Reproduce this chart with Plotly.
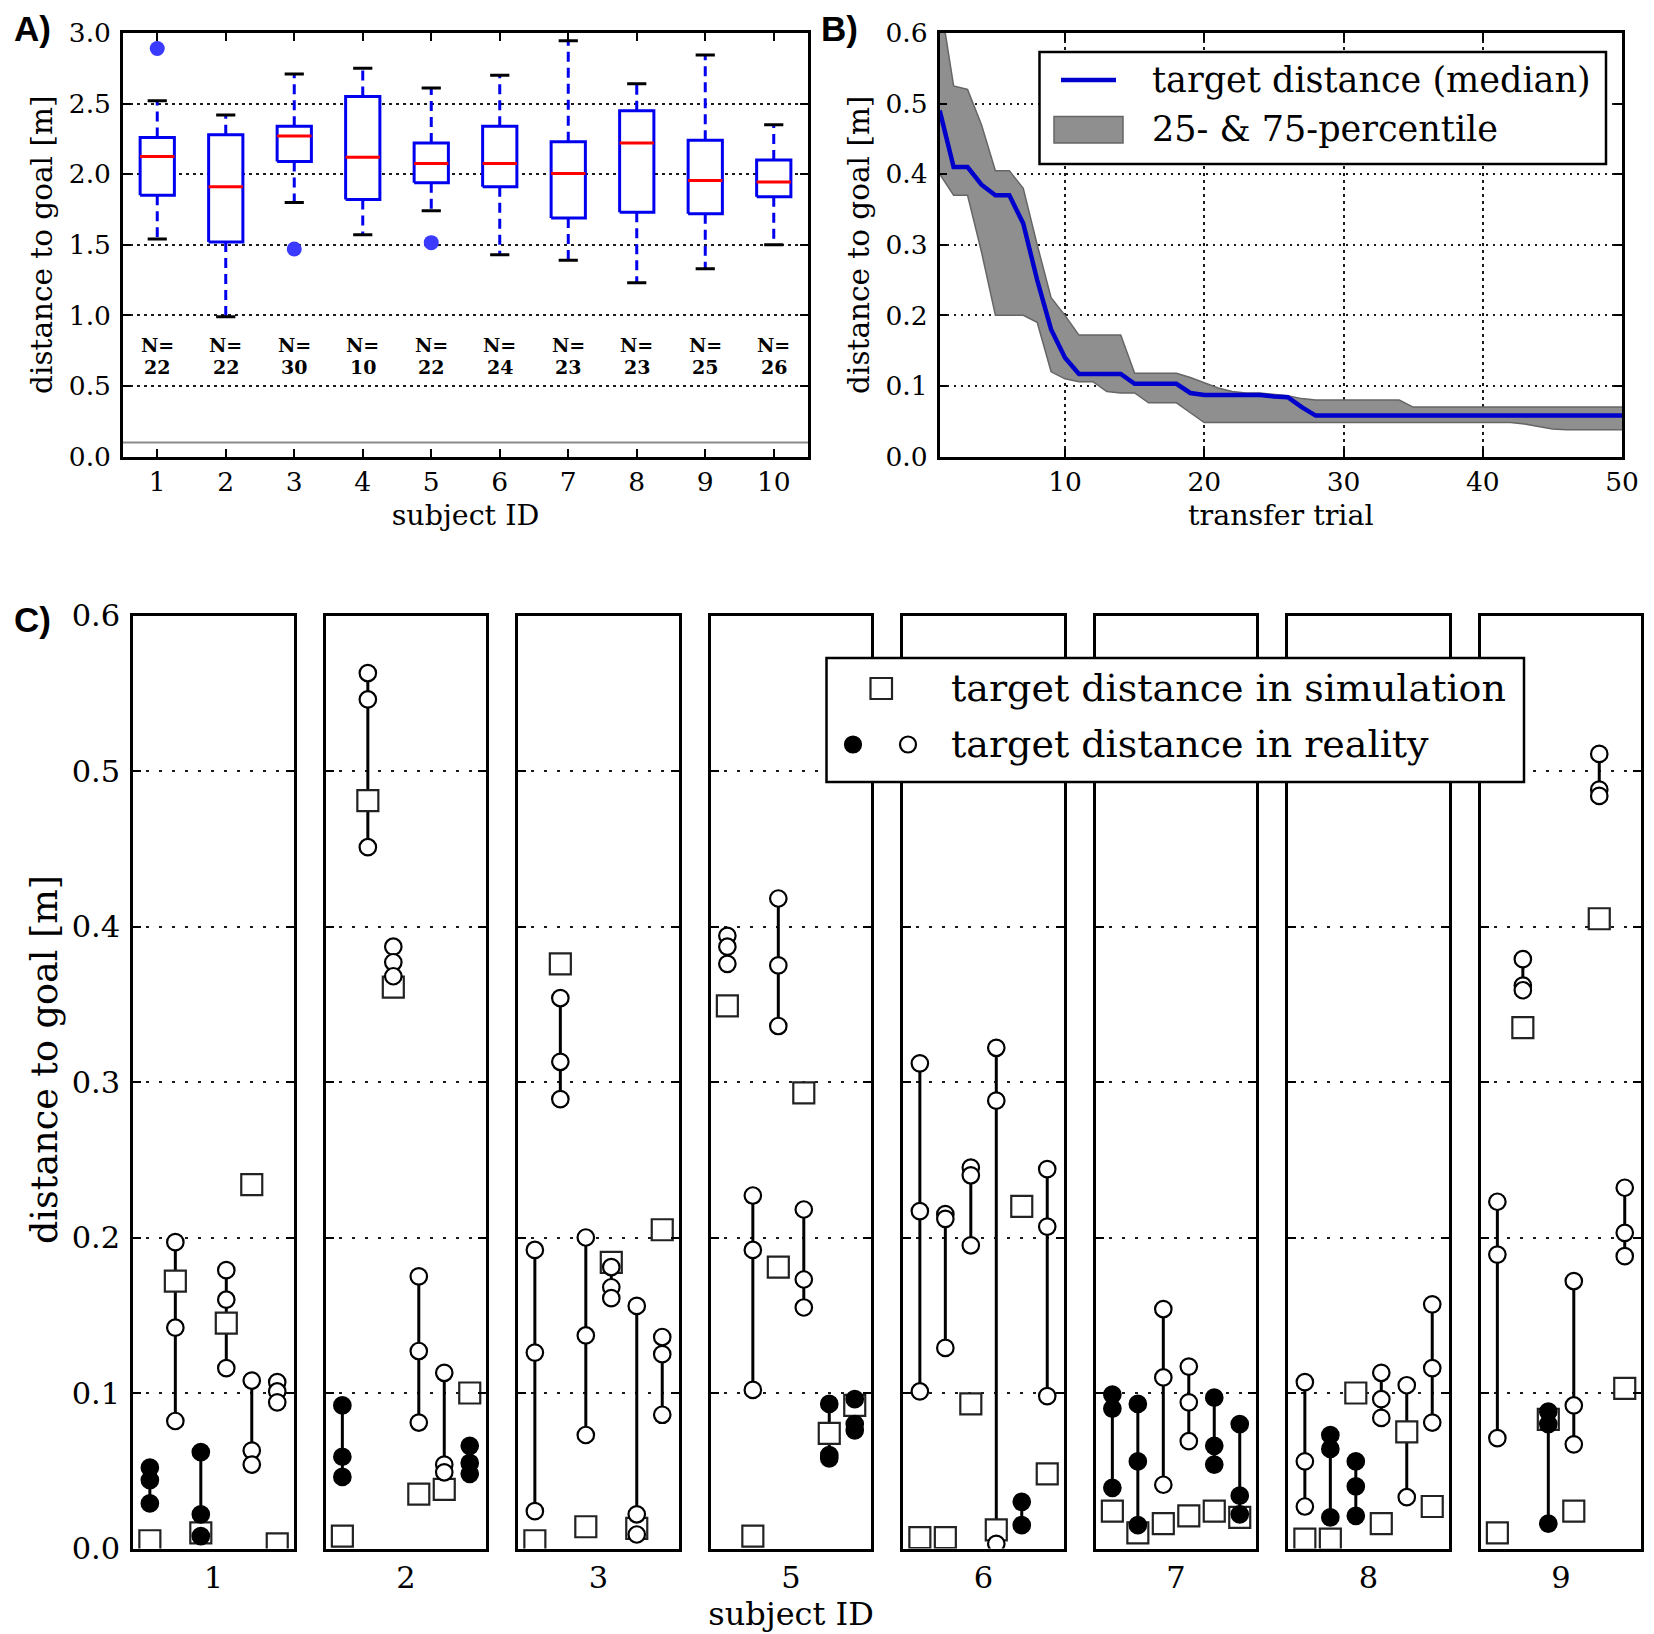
import plotly.graph_objects as go

SERIF = "DejaVu Serif"
SANS = "Liberation Sans"

# ---- A) distance to goal per subject (box statistics read from the figure)
subjects_a = [1, 2, 3, 4, 5, 6, 7, 8, 9, 10]
whisker_hi = [2.52, 2.42, 2.71, 2.75, 2.61, 2.70, 2.945, 2.64, 2.845, 2.35]
q3_a = [2.26, 2.28, 2.34, 2.55, 2.22, 2.34, 2.23, 2.45, 2.24, 2.10]
median_a = [2.125, 1.91, 2.27, 2.12, 2.075, 2.075, 2.005, 2.22, 1.955, 1.945]
q1_a = [1.85, 1.52, 2.09, 1.82, 1.94, 1.91, 1.69, 1.73, 1.72, 1.84]
whisker_lo = [1.54, 0.99, 1.80, 1.57, 1.74, 1.43, 1.39, 1.23, 1.33, 1.50]
n_trials = [22, 22, 30, 10, 22, 24, 23, 23, 25, 26]
outlier_subject = [1, 3, 5]
outlier_value = [2.89, 1.47, 1.515]
threshold = 0.1

# ---- B) learning curve over transfer trials
trials = list(range(1, 51))
median_b = [0.49, 0.41, 0.41, 0.385, 0.37, 0.37, 0.33, 0.25, 0.18, 0.14,
            0.117, 0.117, 0.117, 0.117, 0.103, 0.103, 0.103, 0.103, 0.09, 0.087,
            0.087, 0.087, 0.087, 0.087, 0.085, 0.084, 0.07, 0.058, 0.058, 0.058,
            0.058, 0.058, 0.058, 0.058, 0.058, 0.058, 0.058, 0.058, 0.058, 0.058,
            0.058, 0.058, 0.058, 0.058, 0.058, 0.058, 0.058, 0.058, 0.058, 0.058]
p75_b = [0.65, 0.525, 0.52, 0.47, 0.405, 0.405, 0.38, 0.30, 0.225, 0.20,
         0.172, 0.172, 0.172, 0.172, 0.118, 0.118, 0.118, 0.118, 0.112, 0.105,
         0.097, 0.092, 0.09, 0.09, 0.088, 0.086, 0.082, 0.08, 0.08, 0.08,
         0.08, 0.08, 0.08, 0.08, 0.07, 0.07, 0.07, 0.07, 0.07, 0.07,
         0.07, 0.07, 0.07, 0.07, 0.07, 0.07, 0.07, 0.07, 0.07, 0.07]
p25_b = [0.40, 0.37, 0.37, 0.29, 0.20, 0.20, 0.20, 0.19, 0.12, 0.11,
         0.106, 0.106, 0.092, 0.09, 0.09, 0.076, 0.076, 0.076, 0.062, 0.048,
         0.048, 0.048, 0.048, 0.048, 0.048, 0.048, 0.048, 0.048, 0.048, 0.048,
         0.048, 0.048, 0.048, 0.048, 0.048, 0.048, 0.048, 0.048, 0.048, 0.048,
         0.048, 0.048, 0.046, 0.042, 0.039, 0.038, 0.038, 0.038, 0.038, 0.038]

# ---- C) simulation vs reality, six targets per subject
subjects_c = ["1", "2", "3", "5", "6", "7", "8", "9"]
targets = [1, 2, 3, 4, 5, 6]
sim_c = [
    [0.005, 0.172, 0.010, 0.145, 0.234, 0.003],
    [0.008, 0.481, 0.361, 0.035, 0.038, 0.100],
    [0.005, 0.376, 0.014, 0.184, 0.013, 0.205],
    [0.349, 0.008, 0.181, 0.293, 0.074, 0.092],
    [0.007, 0.007, 0.093, 0.012, 0.220, 0.048],
    [0.024, 0.010, 0.016, 0.021, 0.024, 0.020],
    [0.006, 0.006, 0.100, 0.016, 0.075, 0.027],
    [0.010, 0.335, 0.083, 0.024, 0.405, 0.103],
]
real_c = [
    [[0.052, 0.044, 0.029], [0.197, 0.142, 0.082], [0.062, 0.022, 0.008],
     [0.179, 0.160, 0.116], [0.108, 0.063, 0.054], [0.107, 0.101, 0.094]],
    [[0.092, 0.059, 0.046], [0.563, 0.546, 0.451], [0.387, 0.377, 0.368],
     [0.175, 0.127, 0.081], [0.113, 0.054, 0.049], [0.066, 0.055, 0.048]],
    [[0.192, 0.126, 0.024], [0.354, 0.313, 0.289], [0.200, 0.137, 0.073],
     [0.181, 0.168, 0.161], [0.156, 0.022, 0.009], [0.136, 0.125, 0.086]],
    [[0.394, 0.387, 0.376], [0.227, 0.192, 0.102], [0.418, 0.375, 0.336],
     [0.218, 0.173, 0.155], [0.093, 0.060, 0.058], [0.096, 0.080, 0.076]],
    [[0.312, 0.217, 0.101], [0.215, 0.212, 0.129], [0.245, 0.240, 0.195],
     [0.322, 0.288, 0.003], [0.030, 0.015], [0.244, 0.207, 0.098]],
    [[0.099, 0.090, 0.039], [0.093, 0.056, 0.015], [0.154, 0.110, 0.041],
     [0.117, 0.094, 0.069], [0.097, 0.066, 0.054], [0.080, 0.034, 0.022]],
    [[0.107, 0.056, 0.027], [0.073, 0.064, 0.020], [0.056, 0.040, 0.021],
     [0.113, 0.096, 0.084], [0.105, 0.033], [0.157, 0.116, 0.081]],
    [[0.223, 0.189, 0.071], [0.379, 0.362, 0.359], [0.088, 0.080, 0.016],
     [0.172, 0.092, 0.067], [0.511, 0.488, 0.484], [0.232, 0.203, 0.188]],
]
# 1 = filled marker, 0 = open marker
filled_c = [
    [1, 0, 1, 0, 0, 0],
    [1, 0, 0, 0, 0, 1],
    [0, 0, 0, 0, 0, 0],
    [0, 0, 0, 0, 1, 1],
    [0, 0, 0, 0, 1, 0],
    [1, 1, 0, 0, 1, 1],
    [0, 1, 1, 0, 0, 0],
    [0, 0, 1, 0, 0, 0],
]

W, H = 1654, 1634
BOX_W = 0.25
CAP_W = 0.14
DOTS_AB = "2.5px,4.5px"
DOTS_C = "3px,10px"


def rx(x):
    return x / W


def ry(y):
    return 1 - y / H


def frame(**kw):
    ax = dict(showline=True, linecolor="black", linewidth=2.5, mirror="ticks",
              ticks="inside", ticklen=8, tickwidth=2, tickcolor="black",
              zeroline=False, automargin=False, showgrid=False,
              gridcolor="#1a1a1a", gridwidth=2, griddash=DOTS_AB,
              ticklabelstandoff=4,
              tickfont=dict(family=SERIF, size=26.5, color="black"))
    ax.update(kw)
    return ax


fig = go.Figure()

# ---------------- panel A
bx, by, mx, my, wx, wy, cx, cy = [], [], [], [], [], [], [], []
for s, lo, q1, md, q3, hi in zip(subjects_a, whisker_lo, q1_a, median_a, q3_a, whisker_hi):
    bx += [s - BOX_W, s + BOX_W, s + BOX_W, s - BOX_W, s - BOX_W, None]
    by += [q1, q1, q3, q3, q1, None]
    mx += [s - BOX_W, s + BOX_W, None]
    my += [md, md, None]
    wx += [s, s, None, s, s, None]
    wy += [q3, hi, None, q1, lo, None]
    cx += [s - CAP_W, s + CAP_W, None, s - CAP_W, s + CAP_W, None]
    cy += [hi, hi, None, lo, lo, None]

fig.add_trace(go.Scatter(x=[0.5, 10.5], y=[threshold, threshold], mode="lines",
                         line=dict(color="#8a8a8a", width=2), xaxis="x", yaxis="y"))
fig.add_trace(go.Scatter(x=wx, y=wy, mode="lines", line=dict(color="#0000ee", width=3, dash="10px,6px"),
                         xaxis="x", yaxis="y"))
fig.add_trace(go.Scatter(x=cx, y=cy, mode="lines", line=dict(color="black", width=3),
                         xaxis="x", yaxis="y"))
fig.add_trace(go.Scatter(x=bx, y=by, mode="lines", line=dict(color="#0000ee", width=3),
                         fill="toself", fillcolor="white", xaxis="x", yaxis="y"))
fig.add_trace(go.Scatter(x=mx, y=my, mode="lines", line=dict(color="#ff0000", width=3),
                         xaxis="x", yaxis="y"))
fig.add_trace(go.Scatter(x=outlier_subject, y=outlier_value, mode="markers",
                         marker=dict(color="#3b3bff", size=15, line=dict(width=0)),
                         xaxis="x", yaxis="y"))

annotations = []
n_font = dict(family=SERIF, size=19, color="black")
for s, n in zip(subjects_a, n_trials):
    annotations.append(dict(x=s, y=0.789, xref="x", yref="y", text="<b>N=</b>", showarrow=False,
                            font=n_font))
    annotations.append(dict(x=s, y=0.633, xref="x", yref="y", text=f"<b>{n}</b>", showarrow=False,
                            font=n_font))

# ---------------- panel B
fig.add_trace(go.Scatter(x=trials, y=p25_b, mode="lines", line=dict(color="#666666", width=1.5),
                         xaxis="x2", yaxis="y2"))
fig.add_trace(go.Scatter(x=trials, y=p75_b, mode="lines", line=dict(color="#666666", width=1.5),
                         fill="tonexty", fillcolor="#8f8f8f", xaxis="x2", yaxis="y2"))
fig.add_trace(go.Scatter(x=trials, y=median_b, mode="lines", line=dict(color="#0000cc", width=4.5),
                         xaxis="x2", yaxis="y2"))

# ---------------- panel C
C_LEFT0, C_STEP, C_WIDTH = 125.3, 192.5, 160.5
C_TOP, C_BOTTOM = 607.5, 1540.5
c_tick_font = dict(family=SERIF, size=30.5, color="black")
layout_axes = {}
for i, subj in enumerate(subjects_c):
    xa = f"x{i + 3}"
    ya = f"y{i + 3}"
    lx, ly = [], []
    ox, oy, fx, fy = [], [], [], []
    for t, vals, full in zip(targets, real_c[i], filled_c[i]):
        lx += [t, t, None]
        ly += [min(vals), max(vals), None]
        if full:
            fx += [t] * len(vals)
            fy += vals
        else:
            ox += [t] * len(vals)
            oy += vals
    fig.add_trace(go.Scatter(x=lx, y=ly, mode="lines", line=dict(color="black", width=3),
                             xaxis=xa, yaxis=ya))
    fig.add_trace(go.Scatter(x=targets, y=sim_c[i], mode="markers",
                             marker=dict(symbol="square", size=21, color="white",
                                         line=dict(color="#222222", width=2.2)),
                             xaxis=xa, yaxis=ya))
    fig.add_trace(go.Scatter(x=ox, y=oy, mode="markers",
                             marker=dict(symbol="circle", size=16.5, color="white",
                                         line=dict(color="black", width=2.2)),
                             xaxis=xa, yaxis=ya))
    fig.add_trace(go.Scatter(x=fx, y=fy, mode="markers",
                             marker=dict(symbol="circle", size=16.5, color="black",
                                         line=dict(color="black", width=2.2)),
                             xaxis=xa, yaxis=ya))
    left = C_LEFT0 + i * C_STEP
    xkw = dict(domain=[rx(left), rx(left + C_WIDTH)], range=[0.35, 6.65], anchor=ya,
               tickvals=[3.5], ticktext=[subj], ticks="", linewidth=3, tickfont=c_tick_font,
               ticklabelstandoff=0)
    if subj == "5":
        xkw["title"] = dict(text="subject ID", font=dict(family=SERIF, size=32, color="black"),
                            standoff=2)
    layout_axes[f"xaxis{i + 3}"] = frame(**xkw)
    ykw = dict(domain=[ry(C_BOTTOM), ry(C_TOP)], range=[0, 0.6], anchor=xa,
               tickvals=[0, 0.1, 0.2, 0.3, 0.4, 0.5, 0.6], showgrid=True, linewidth=3,
               griddash=DOTS_C, tickfont=c_tick_font)
    if i == 0:
        ykw["ticktext"] = ["0.0", "0.1", "0.2", "0.3", "0.4", "0.5", "0.6"]
    else:
        ykw["showticklabels"] = False
    layout_axes[f"yaxis{i + 3}"] = frame(**ykw)

title_font = dict(family=SERIF, size=28.5, color="black")
ytitle_font = dict(family=SERIF, size=29.5, color="black")
layout_axes["xaxis"] = frame(domain=[rx(115), rx(800)], range=[0.5, 10.5], anchor="y",
                             tickvals=subjects_a, ticklabelstandoff=0,
                             title=dict(text="subject ID", font=title_font, standoff=10))
layout_axes["yaxis"] = frame(domain=[ry(448.5), ry(25)], range=[0, 3.0], anchor="x",
                             tickvals=[0, 0.5, 1.0, 1.5, 2.0, 2.5, 3.0],
                             ticktext=["0.0", "0.5", "1.0", "1.5", "2.0", "2.5", "3.0"],
                             showgrid=True,
                             title=dict(text="distance to goal [m]", font=ytitle_font, standoff=8))
layout_axes["xaxis2"] = frame(domain=[rx(931.7), rx(1614)], range=[1, 50], anchor="y2",
                              tickvals=[10, 20, 30, 40, 50], showgrid=True, ticklabelstandoff=0,
                              title=dict(text="transfer trial", font=title_font, standoff=10))
layout_axes["yaxis2"] = frame(domain=[ry(448.5), ry(25)], range=[0, 0.6], anchor="x2",
                              tickvals=[0, 0.1, 0.2, 0.3, 0.4, 0.5, 0.6],
                              ticktext=["0.0", "0.1", "0.2", "0.3", "0.4", "0.5", "0.6"],
                              showgrid=True,
                              title=dict(text="distance to goal [m]", font=ytitle_font, standoff=8))

shapes = [
    # legend B
    dict(type="rect", xref="paper", yref="paper", x0=rx(1031.5), x1=rx(1598), y0=ry(156), y1=ry(44),
         line=dict(color="black", width=2.5), fillcolor="white", layer="above"),
    dict(type="line", xref="paper", yref="paper", x0=rx(1053), x1=rx(1108), y0=ry(72), y1=ry(72),
         line=dict(color="#0000cc", width=4.5), layer="above"),
    dict(type="rect", xref="paper", yref="paper", x0=rx(1046), x1=rx(1115), y0=ry(135), y1=ry(108.5),
         line=dict(color="#666666", width=1.5), fillcolor="#8f8f8f", layer="above"),
    # legend C
    dict(type="rect", xref="paper", yref="paper", x0=rx(818.5), x1=rx(1516), y0=ry(774), y1=ry(650),
         line=dict(color="black", width=2.5), fillcolor="white", layer="above"),
    dict(type="rect", xref="paper", yref="paper", x0=rx(862.5), x1=rx(884), y0=ry(691), y1=ry(670),
         line=dict(color="#222222", width=2.2), fillcolor="white", layer="above"),
    dict(type="circle", xref="paper", yref="paper", x0=rx(837), x1=rx(853), y0=ry(744.5), y1=ry(728.5),
         line=dict(color="black", width=2.2), fillcolor="black", layer="above"),
    dict(type="circle", xref="paper", yref="paper", x0=rx(892), x1=rx(908), y0=ry(744.5), y1=ry(728.5),
         line=dict(color="black", width=2.2), fillcolor="white", layer="above"),
]

leg_font_b = dict(family=SERIF, size=35, color="black")
leg_font_c = dict(family=SERIF, size=38, color="black")
annotations += [
    dict(x=rx(1142), y=ry(72), xref="paper", yref="paper", text="target distance (median)",
         showarrow=False, xanchor="left", yanchor="middle", font=leg_font_b),
    dict(x=rx(1142), y=ry(121), xref="paper", yref="paper", text="25- &amp; 75-percentile",
         showarrow=False, xanchor="left", yanchor="middle", font=leg_font_b),
    dict(x=rx(941), y=ry(680), xref="paper", yref="paper", text="target distance in simulation",
         showarrow=False, xanchor="left", yanchor="middle", font=leg_font_c),
    dict(x=rx(941), y=ry(736), xref="paper", yref="paper", text="target distance in reality",
         showarrow=False, xanchor="left", yanchor="middle", font=leg_font_c),
    # y title of panel C (sits a little above the panel centre, as in the reference)
    dict(x=rx(36), y=ry(1052), xref="paper", yref="paper", text="distance to goal [m]",
         showarrow=False, textangle=-90, xanchor="center", yanchor="middle",
         font=dict(family=SERIF, size=36.5, color="black")),
]
label_font = dict(family=SANS, size=35, color="black")
for lab, lx, ly in [("A)", 4, 21), ("B)", 811, 21), ("C)", 4, 611)]:
    annotations.append(dict(x=rx(lx), y=ry(ly), xref="paper", yref="paper", text=f"<b>{lab}</b>",
                            showarrow=False, xanchor="left", yanchor="middle", font=label_font))

fig.update_layout(
    width=W, height=H,
    margin=dict(l=0, r=0, t=0, b=0),
    paper_bgcolor="white", plot_bgcolor="white",
    showlegend=False,
    shapes=shapes,
    annotations=annotations,
    **layout_axes,
)

fig.write_html("out.html")
